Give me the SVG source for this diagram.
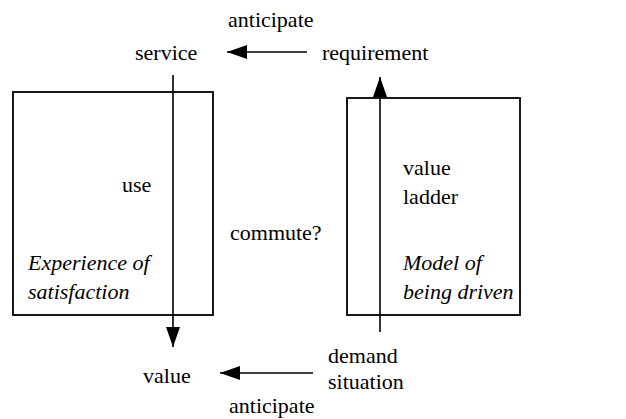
<svg xmlns="http://www.w3.org/2000/svg" width="626" height="419" viewBox="0 0 626 419">
<defs>
<style>
text{font-size:22px;fill:#000}
.it{font-style:italic}
.box{fill:none;stroke:#000;stroke-width:1.8}
.ln{fill:none;stroke:#000;stroke-width:1.6}
</style>
<marker id="ah" markerUnits="userSpaceOnUse" markerWidth="20" markerHeight="16" refX="20" refY="8" orient="auto">
<path d="M0,1 L20,8 L0,15 Z" fill="#000"/>
</marker>
</defs>
<rect width="626" height="419" fill="#fff"/>
<g font-family="'Liberation Serif', 'DejaVu Serif', 'Times New Roman', serif">
<g id="experience">
<rect class="box" x="13" y="92" width="200" height="223"/>
<text x="122" y="192">use</text>
<text class="it" x="28" y="270">Experience of</text>
<text class="it" x="28" y="299">satisfaction</text>
</g>
<g id="model">
<rect class="box" x="347" y="98" width="173" height="217"/>
<text x="403" y="175">value</text>
<text x="403" y="204">ladder</text>
<text class="it" x="403" y="270">Model of</text>
<text class="it" x="403" y="299">being driven</text>
</g>
<g id="service"><text x="135" y="60">service</text></g>
<g id="requirement"><text x="322" y="60">requirement</text></g>
<g id="value"><text x="143" y="383">value</text></g>
<g id="demand"><text x="328" y="363">demand</text><text x="328" y="389">situation</text></g>
<g id="labels">
<text x="228" y="27">anticipate</text>
<text x="230" y="240">commute?</text>
<text x="229" y="413">anticipate</text>
</g>
</g>
<g id="connectors">
<line class="ln" x1="307" y1="52" x2="227" y2="52" marker-end="url(#ah)"/>
<line class="ln" x1="173" y1="75" x2="173" y2="347" marker-end="url(#ah)"/>
<line class="ln" x1="380" y1="332" x2="380" y2="77" marker-end="url(#ah)"/>
<line class="ln" x1="313" y1="373" x2="220" y2="373" marker-end="url(#ah)"/>
</g>
</svg>
